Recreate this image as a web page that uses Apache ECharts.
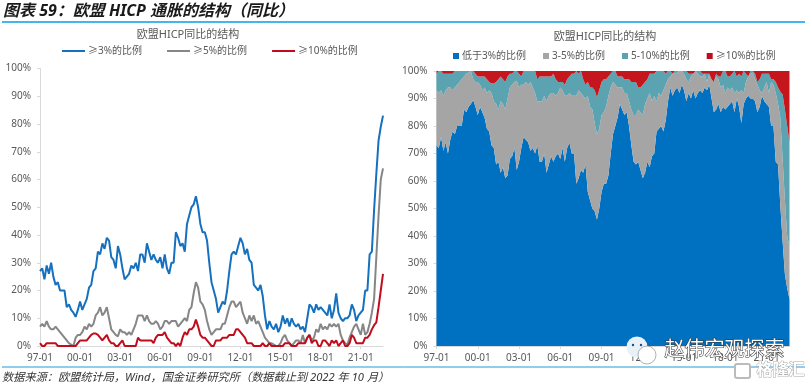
<!DOCTYPE html>
<html>
<head>
<meta charset="utf-8">
<script src="https://cdn.jsdelivr.net/npm/echarts@6/dist/echarts.min.js"></script>
<style>
html,body{margin:0;padding:0;background:#fff}
#main{width:809px;height:387px}
</style>
</head>
<body>
<div id="main"></div>
<script>
// every second month, 97-01 to 22-09
var startYear=1997, lastYear=2022, lastMonth=9;
var tickLabels=[];
for(var y=startYear;y<=lastYear;y++){
	for(var m=1;m<=11;m+=2){
		if(y==lastYear&&m>lastMonth)break;
		tickLabels.push(String(y).slice(2)+"-"+(m<10?"0"+m:m));
	}
}

var above3=[
	27,28,24,29,26,30, 25,22,23,20,20,20, 14,15,13,12,10.5,13, 16,13,15,17,21,22,
	27,28,34,33,37,35, 39,38,32,31,28,36, 33,28,24,25,26,29, 28,30,27,33,33,30,
	37,34,31,33,31,30, 32,28,33,28,26,30, 30,41,39,36,37,34, 44,47,50,51,54,50,
	44,41,41,38,30,23, 20,17,12,14,16,15, 20,27,33,34,33,36, 39,37,33,35,31,30,
	22,21,20,22,18,11, 6,9,7,6,8,5, 7,11,8,10,7,10, 8,7,8,6,7,5,
	10,15,14,12,15,13, 14,13,12,11,15,10, 13,19,12,10,9,10, 10,11,15,13,9,11,
	12,13,20,20,33,34, 49,62,74,79,83
];
var above5=[
	7,8,7,9,7,6, 6,7,6,5,4,3, 2,1,0.5,0,3,4, 4,5,7,6,8,7,
	8,11,12,14,11,12, 14,10,6,5,4,3.5, 6,5,5,4,5,4, 6,8,11,11,11,9,
	11,9,8,8,9,8, 6,7,9,9,8,9, 9,9,7,8,9,10, 9,13,14,19,23,21,
	16,15,13,9,6,4, 5,6,6,6,8,8, 11,14,16,16,14,15, 16,12,10,8,11,9,
	11,8,9,7,5,3, 2,1,1,0.5,0,0, 1,3,4,2,1,0, 1,2,2,1,4,1,
	3,4,2,3,6,5, 8,6,7,6,8,7, 8,7,8,4,2,1, 0.5,3,5,7,8,6,
	4,8,4,5,8,12, 17,32,47,60,64
];
var above10=[
	1,0,0,1,1,1, 1,1,0,0,0,0, 0,0,0,0,0,1, 2,2,2,2,3,4,
	4.5,4.5,4,3,2,3, 4,2,1,1,0,0, 1,2,0,0,0,0, 0,0,3,2,2,2,
	2,2,2,1,3,4, 4,4,5,3,2,1, 1,0,1,0,3,5, 4,6,6,7,9.5,7,
	4,3,3,2,1,0, 0,2,2,2,3,3, 3,4,4,4,6,6, 5,4,3,1,1,1,
	0,0,0,0,1,0, 0,1,0,0,0,0, 0,0,1,1,1,0, 0,0,1,1,1,1,
	3,4,1,2,2,0, 0,2,2,1,0,2, 1,2,0,1,2,0, 0,1,4,3,1,1,
	1,1,3,3,4,6, 7.5,8.5,14,20,26
];

// right chart is the same three shares split into bands
var below3=above3.map(function(v){return 100-v});
var band3to5=above3.map(function(v,i){return v-above5[i]});
var band5to10=above5.map(function(v,i){return v-above10[i]});

var chartTitle="欧盟HICP同比的结构";
var leftNames=["≥3%的比例","≥5%的比例","≥10%的比例"];
var rightNames=["低于3%的比例","3-5%的比例","5-10%的比例","≥10%的比例"];
var font="'Noto Sans','Noto Sans CJK SC',sans-serif";
var textColor="#595959";

function xAxis(idx){
	return {
		type:"category",gridIndex:idx,data:tickLabels,boundaryGap:false,
		axisLine:{lineStyle:{color:"#D9D9D9",width:1}},
		axisTick:{show:true,interval:17,length:3,lineStyle:{color:"#D9D9D9"}},
		axisLabel:{interval:17,color:textColor,fontSize:10,fontFamily:font,margin:7}
	}
}
function yAxis(idx){
	return {
		type:"value",gridIndex:idx,min:0,max:100,interval:10,
		axisLine:{show:true,lineStyle:{color:"#D9D9D9",width:1}},
		axisTick:{show:true,length:3,lineStyle:{color:"#D9D9D9"}},
		splitLine:{show:false},
		axisLabel:{formatter:"{value}%",color:textColor,fontSize:10,fontFamily:font,margin:9}
	}
}
function lineSeries(name,data,color){
	return {name:name,type:"line",xAxisIndex:0,yAxisIndex:0,data:data,symbol:"none",
		lineStyle:{color:color,width:2},itemStyle:{color:color}}
}
function areaSeries(name,data,color){
	return {name:name,type:"line",xAxisIndex:1,yAxisIndex:1,stack:"share",data:data,symbol:"none",
		lineStyle:{width:0},areaStyle:{color:color,opacity:1},itemStyle:{color:color}}
}
function legendText(){
	return {color:textColor,fontSize:10,fontFamily:font,padding:[0,0,0,-2]}
}

var myChart=echarts.init(document.getElementById("main"),null,{renderer:"canvas"});
myChart.setOption({
	animation:false,
	backgroundColor:"#fff",
	grid:[
		{left:40,top:68.5,width:343,height:277.5},
		{left:436.5,top:71,width:353,height:275}
	],
	title:[
		{text:"图表 59：欧盟 HICP 通胀的结构（同比）",left:3,top:3,padding:0,
			textStyle:{color:"#1a1a1a",fontSize:16,fontWeight:"bold",fontStyle:"italic",fontFamily:font}},
		{text:chartTitle,left:188,top:29,padding:0,textAlign:"center",
			textStyle:{color:textColor,fontSize:11,fontWeight:"normal",fontFamily:font}},
		{text:chartTitle,left:605,top:31,padding:0,textAlign:"center",
			textStyle:{color:textColor,fontSize:11,fontWeight:"normal",fontFamily:font}},
		{text:"数据来源：欧盟统计局，Wind，国金证券研究所（数据截止到 2022 年 10 月）",left:2,top:372,padding:0,
			textStyle:{color:"#333",fontSize:11.2,fontWeight:"normal",fontStyle:"italic",fontFamily:font}}
	],
	legend:[
		{data:leftNames,left:62,top:46,itemWidth:23,itemHeight:2,itemGap:25,icon:"rect",padding:0,textStyle:legendText()},
		{data:rightNames.map(function(n){return {name:n}}),left:453,top:51,itemWidth:6,itemHeight:6,itemGap:17,icon:"rect",padding:0,textStyle:legendText()}
	],
	xAxis:[xAxis(0),xAxis(1)],
	yAxis:[yAxis(0),yAxis(1)],
	series:[
		lineSeries(leftNames[0],above3,"#1570BE"),
		lineSeries(leftNames[1],above5,"#868686"),
		lineSeries(leftNames[2],above10,"#C00D1E"),
		areaSeries(rightNames[0],below3,"#0070C0"),
		areaSeries(rightNames[1],band3to5,"#A5A5A5"),
		areaSeries(rightNames[2],band5to10,"#5BA3B0"),
		areaSeries(rightNames[3],above10,"#C5161D")
	],
	graphic:[
		{type:"line",shape:{x1:2,y1:22,x2:805,y2:22},style:{stroke:"#00A0E9",lineWidth:1.5}},
		{type:"line",shape:{x1:2,y1:367,x2:805,y2:367},style:{stroke:"#1E9BD7",lineWidth:1}},
		{type:"circle",shape:{cx:637,cy:347,r:10.5},style:{fill:"#E8F1F8"},z:20},
		{type:"circle",shape:{cx:633,cy:345,r:1.2},style:{fill:"#1F4E79"},z:21},
		{type:"circle",shape:{cx:641,cy:345,r:1.2},style:{fill:"#1F4E79"},z:21},
		{type:"circle",shape:{cx:647,cy:355,r:9},style:{fill:"#fff",stroke:"#666",lineWidth:0.5},z:21},
		{type:"text",left:664,top:340,z:22,style:{text:"赵伟宏观探索",fontSize:20,fontFamily:font,fill:"#fff",stroke:"#333",lineWidth:1}},
		{type:"rect",shape:{x:735,y:364,width:15,height:14,r:2},style:{fill:"#fff",stroke:"#bbb",lineWidth:2},z:22},
		{type:"text",left:756,top:362,z:22,style:{text:"格隆汇",fontSize:16,fontWeight:"bold",fontFamily:font,fill:"#fff",stroke:"#aaa",lineWidth:1}}
	]
});
</script>
</body>
</html>
